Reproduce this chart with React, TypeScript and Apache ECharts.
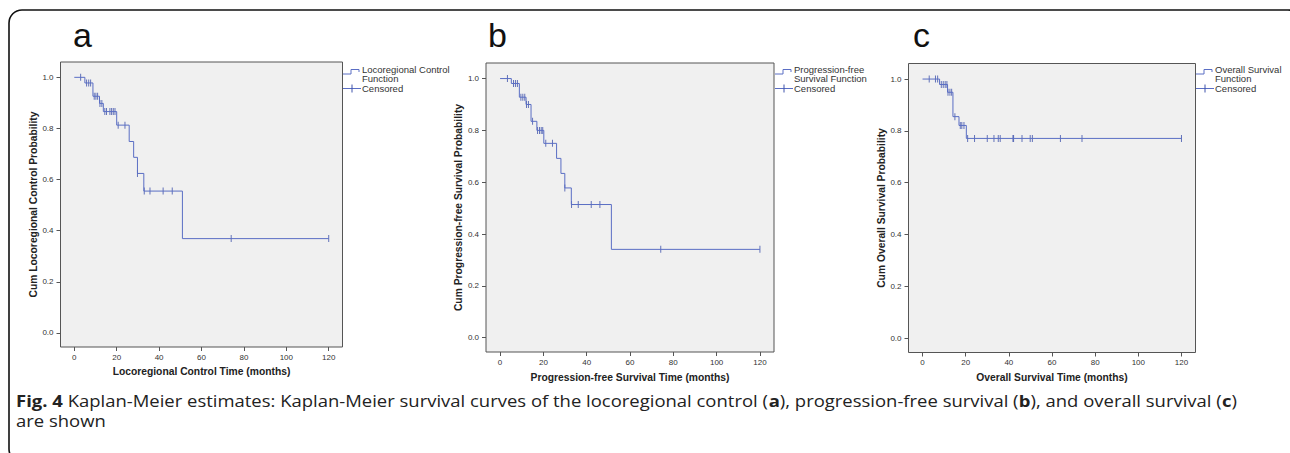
import React, { useEffect, useRef } from "react";
import * as echarts from "echarts";

// ---- Data ----
const xTicks = [0, 20, 40, 60, 80, 100, 120];
const yTicks = [0, 0.2, 0.4, 0.6, 0.8, 1.0];

// a: Locoregional control
const lcTimes = [0, 5.0, 8.8, 11.9, 13.7, 20.0, 25.9, 28.0, 29.8, 32.8, 51.0, 120];
const lcSurv = [1.0, 0.978, 0.926, 0.898, 0.866, 0.813, 0.749, 0.687, 0.624, 0.555, 0.369, 0.369];
const lcCensored = [3.0, 5.8, 6.8, 7.7, 9.4, 10.2, 11.0, 12.1, 13.0, 14.4, 15.2, 16.8, 17.6, 18.4, 19.2, 20.7, 23.9, 29.8, 33.0, 35.7, 41.9, 46.2, 74.0, 120];

// b: Progression-free survival
const pfsTimes = [0, 5.2, 8.9, 12.0, 14.3, 17.0, 20.2, 26.1, 28.1, 29.9, 32.9, 51.4, 120];
const pfsSurv = [1.0, 0.981, 0.928, 0.9, 0.835, 0.8, 0.75, 0.692, 0.634, 0.578, 0.514, 0.341, 0.341];
const pfsCensored = [3.4, 6.2, 7.1, 8.0, 9.6, 10.5, 11.4, 12.2, 13.1, 15.0, 17.3, 18.2, 19.0, 19.7, 21.1, 24.2, 29.9, 33.0, 36.1, 42.1, 46.1, 74.2, 120];

// c: Overall survival
const osTimes = [0, 7.9, 11.6, 14.1, 16.9, 20.3, 120];
const osSurv = [1.0, 0.979, 0.949, 0.855, 0.821, 0.771, 0.771];
const osCensored = [3.1, 6.0, 7.0, 8.7, 9.6, 10.5, 11.3, 11.8, 12.7, 13.5, 15.0, 17.5, 18.2, 19.2, 20.9, 24.1, 30.0, 33.1, 35.1, 36.0, 41.9, 42.2, 46.1, 49.9, 50.9, 63.9, 73.9, 120];

const panelLetters = ["a", "b", "c"];
const xTitles = [
  "Locoregional Control Time (months)",
  "Progression-free Survival Time (months)",
  "Overall Survival Time (months)",
];
const yTitles = [
  "Cum Locoregional Control Probability",
  "Cum Progression-free Survival Probability",
  "Cum Overall Survival Probability",
];
const legendFunction = [
  "Locoregional Control\nFunction",
  "Progression-free\nSurvival Function",
  "Overall Survival\nFunction",
];
const legendCensored = "Censored";

const LINE = "#5a6ec4";
const CENS = "#3e52ab";
const AXIS = "#555";

function survAt(times: number[], surv: number[], t: number) {
  let v = surv[0];
  for (let i = 0; i < times.length; i++) if (times[i] <= t + 1e-9) v = surv[i];
  return v;
}

const panels = [
  { times: lcTimes, surv: lcSurv, cens: lcCensored, left: 60.5, top: 62, width: 282, height: 285, yGap: 20, xGap: 19, letterX: 73, legX: 343 },
  { times: pfsTimes, surv: pfsSurv, cens: pfsCensored, left: 486, top: 63, width: 288, height: 289, yGap: 18, xGap: 20, letterX: 488, legX: 775 },
  { times: osTimes, surv: osSurv, cens: osCensored, left: 908.5, top: 63.5, width: 287, height: 289, yGap: 20, xGap: 20, letterX: 913, legX: 1196 },
];

export default function App() {
  const ref = useRef<HTMLDivElement>(null);
  useEffect(() => {
    if (!ref.current) return;
    const chart = echarts.init(ref.current, null, { renderer: "svg" });
    const font = "Liberation Sans, Arial, sans-serif";

    const grid = panels.map((p) => ({
      left: p.left, top: p.top, width: p.width, height: p.height,
      show: true, backgroundColor: "#f0f0f0", borderColor: AXIS, borderWidth: 1,
    }));
    const xAxis = panels.map((p, i) => ({
      type: "value", gridIndex: i, min: -6.5, max: 126.5, position: "bottom",
      name: xTitles[i], nameLocation: "middle", nameGap: p.xGap,
      nameTextStyle: { fontFamily: font, fontWeight: "bold", fontSize: 10.3, color: "#222" },
      axisLine: { show: false, onZero: false },
      axisTick: { show: true, length: 4, customValues: xTicks, lineStyle: { color: AXIS } },
      axisLabel: { customValues: xTicks, fontFamily: font, fontSize: 8, color: "#333", margin: 6 },
      splitLine: { show: false },
    }));
    const yAxis = panels.map((p, i) => ({
      type: "value", gridIndex: i, min: -0.055, max: 1.06, position: "left",
      name: yTitles[i], nameLocation: "middle", nameGap: p.yGap,
      nameTextStyle: { fontFamily: font, fontWeight: "bold", fontSize: 10.3, color: "#222" },
      axisLine: { show: false, onZero: false },
      axisTick: { show: true, length: 4, customValues: yTicks, lineStyle: { color: AXIS } },
      axisLabel: { customValues: yTicks, fontFamily: font, fontSize: 8, color: "#333", margin: 7,
        formatter: (v: number) => v.toFixed(1) },
      splitLine: { show: false },
    }));
    const series: any[] = [];
    panels.forEach((p, i) => {
      series.push({
        type: "line", xAxisIndex: i, yAxisIndex: i, step: "end", showSymbol: false,
        data: p.times.map((t, k) => [t, p.surv[k]]),
        lineStyle: { color: LINE, width: 1 }, silent: true,
      });
      series.push({
        type: "scatter", xAxisIndex: i, yAxisIndex: i, symbol: "rect", symbolSize: [1, 7],
        data: p.cens.map((t) => [t, survAt(p.times, p.surv, t)]),
        itemStyle: { color: CENS }, silent: true,
      });
    });

    const graphic: any[] = [
      { type: "rect", shape: { x: 9, y: 10, width: 1292, height: 452, r: 13 },
        style: { fill: "none", stroke: "#111", lineWidth: 1.6 }, silent: true },
    ];
    panels.forEach((p, i) => {
      graphic.push({ type: "text", x: p.letterX, y: 52,
        style: { text: panelLetters[i], font: `34px ${font}`, fill: "#111", textVerticalAlign: "bottom" } });
      const lx = p.legX;
      graphic.push({ type: "polyline", shape: { points: [[lx, 74], [lx + 8, 74], [lx + 8, 69.5], [lx + 16, 69.5], [lx + 16, 72]] },
        style: { stroke: LINE, lineWidth: 1, fill: "none" } });
      graphic.push({ type: "line", shape: { x1: lx, y1: 88.5, x2: lx + 18, y2: 88.5 }, style: { stroke: LINE, lineWidth: 1 } });
      graphic.push({ type: "line", shape: { x1: lx + 9, y1: 84.5, x2: lx + 9, y2: 92.5 }, style: { stroke: CENS, lineWidth: 1 } });
      graphic.push({ type: "text", x: lx + 19, y: 64.5,
        style: { text: legendFunction[i], font: `9.5px ${font}`, fill: "#333", lineHeight: 9.5, textVerticalAlign: "top" } });
      graphic.push({ type: "text", x: lx + 19, y: 88.5,
        style: { text: legendCensored, font: `9.5px ${font}`, fill: "#333", textVerticalAlign: "middle" } });
    });
    const capFont = "Open Sans, Noto Sans, sans-serif";
    const capSize = 16.5;
    graphic.push({
      type: "text", x: 16, y: 409, scaleX: 1.12,
      style: {
        text: "{b|Fig. 4} Kaplan-Meier estimates: Kaplan-Meier survival curves of the locoregional control ({b|a}), progression-free survival ({b|b}), and overall survival ({b|c})",
        font: `${capSize}px ${capFont}`, fill: "#222", textVerticalAlign: "bottom",
        rich: { b: { fontWeight: "bold", fontFamily: capFont, fontSize: capSize, fill: "#222" } },
      },
    });
    graphic.push({ type: "text", x: 16, y: 429, scaleX: 1.12,
      style: { text: "are shown", font: `${capSize}px ${capFont}`, fill: "#222", textVerticalAlign: "bottom" } });

    chart.setOption({ animation: false, grid, xAxis, yAxis, series, graphic });
    return () => chart.dispose();
  }, []);
  return <div ref={ref} style={{ position: "fixed", left: 0, top: 0, width: 1290, height: 453, background: "#fff" }} />;
}
